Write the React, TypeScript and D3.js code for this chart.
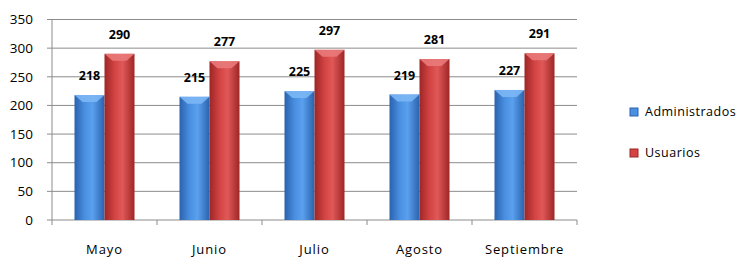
import React from "react";
import * as d3 from "d3";

const categories = ["Mayo", "Junio", "Julio", "Agosto", "Septiembre"];
const seriesNames = ["Administrados", "Usuarios"];
const administrados = [218, 215, 225, 219, 227];
const usuarios = [290, 277, 297, 281, 291];
const yTicks = [0, 50, 100, 150, 200, 250, 300, 350];

const W = 736, H = 257;
const left = 52, right = 577, top = 19.5, bottom = 220;
const font = "'Open Sans', 'Noto Sans', sans-serif";

export default function App() {
  const x = d3.scaleBand<string>().domain(categories).range([left, right]).paddingInner(0).paddingOuter(0);
  const y = d3.scaleLinear().domain([0, 350]).range([bottom, top]);
  const inner = d3.scaleBand<string>().domain(seriesNames).range([0, x.bandwidth()]).paddingInner(0).paddingOuter(0.75);
  const series = [administrados, usuarios];
  const colors = [
    { id: "gBlue", dark: "#2a62ad", mid: "#4a90e2", light: "#5aa0ee", cap: "#7cb6f5" },
    { id: "gRed", dark: "#9e2626", mid: "#d44444", light: "#e05858", cap: "#ea7a7a" },
  ];
  const boundaries = d3.range(categories.length + 1).map(i => left + i * x.bandwidth());

  return (
    <svg width={W} height={H} style={{ position: "absolute", left: 0, top: 0 }}>
      <defs>
        {colors.map(c => (
          <linearGradient key={c.id} id={c.id} x1="0" x2="1" y1="0" y2="0">
            <stop offset="0" stopColor={c.dark} />
            <stop offset="0.35" stopColor={c.mid} />
            <stop offset="0.6" stopColor={c.light} />
            <stop offset="1" stopColor={c.dark} />
          </linearGradient>
        ))}
      </defs>
      {/* gridlines */}
      {yTicks.filter(t => t > 0).map(t => (
        <line key={t} x1={left} x2={right} y1={y(t)} y2={y(t)} stroke="#8c8c8c" strokeWidth={1} />
      ))}
      {/* y axis */}
      <line x1={left} x2={left} y1={top} y2={bottom} stroke="#8c8c8c" />
      {yTicks.map(t => (
        <g key={t}>
          <line x1={left - 5} x2={left} y1={y(t)} y2={y(t)} stroke="#8c8c8c" />
          <text x={33} y={y(t)} dy="0.35em" textAnchor="end" fontFamily={font} fontSize={13.5} fill="#000">{t}</text>
        </g>
      ))}
      {/* x axis */}
      <line x1={left} x2={right} y1={bottom} y2={bottom} stroke="#8c8c8c" />
      {boundaries.map((b, i) => (
        <line key={i} x1={b} x2={b} y1={bottom} y2={bottom + 5} stroke="#8c8c8c" />
      ))}
      {categories.map(c => (
        <text key={c} x={x(c)! + x.bandwidth() / 2} y={254} textAnchor="middle" fontFamily={font} fontSize={13} letterSpacing={0.9} fill="#000">{c}</text>
      ))}
      {/* bars */}
      {categories.map((c, i) => (
        <g key={c}>
          {series.map((s, j) => {
            const bx = x(c)! + inner(seriesNames[j])!;
            const bw = inner.bandwidth();
            const by = y(s[i]);
            const col = colors[j];
            return (
              <g key={j}>
                <rect x={bx} y={by} width={bw} height={bottom - by} fill={`url(#${col.id})`} />
                <path d={`M${bx},${by} L${bx + bw},${by} L${bx + bw - 8},${by + 7} L${bx + 8},${by + 7} Z`} fill={col.cap} opacity={0.9} />
                <text x={bx + bw / 2} y={by - 15} textAnchor="middle" fontFamily={font} fontWeight="bold" fontSize={12.5} fill="#000">{s[i]}</text>
              </g>
            );
          })}
        </g>
      ))}
      {/* legend */}
      {seriesNames.map((n, j) => (
        <g key={n} transform={`translate(630, ${112 + j * 41})`}>
          <rect x={0} y={-4} width={8} height={8} fill={colors[j].mid} stroke={colors[j].dark} strokeWidth={1} />
          <text x={15} y={0} dy="0.35em" fontFamily={font} fontSize={12.5} letterSpacing={0.5} fill="#000">{n}</text>
        </g>
      ))}
    </svg>
  );
}
